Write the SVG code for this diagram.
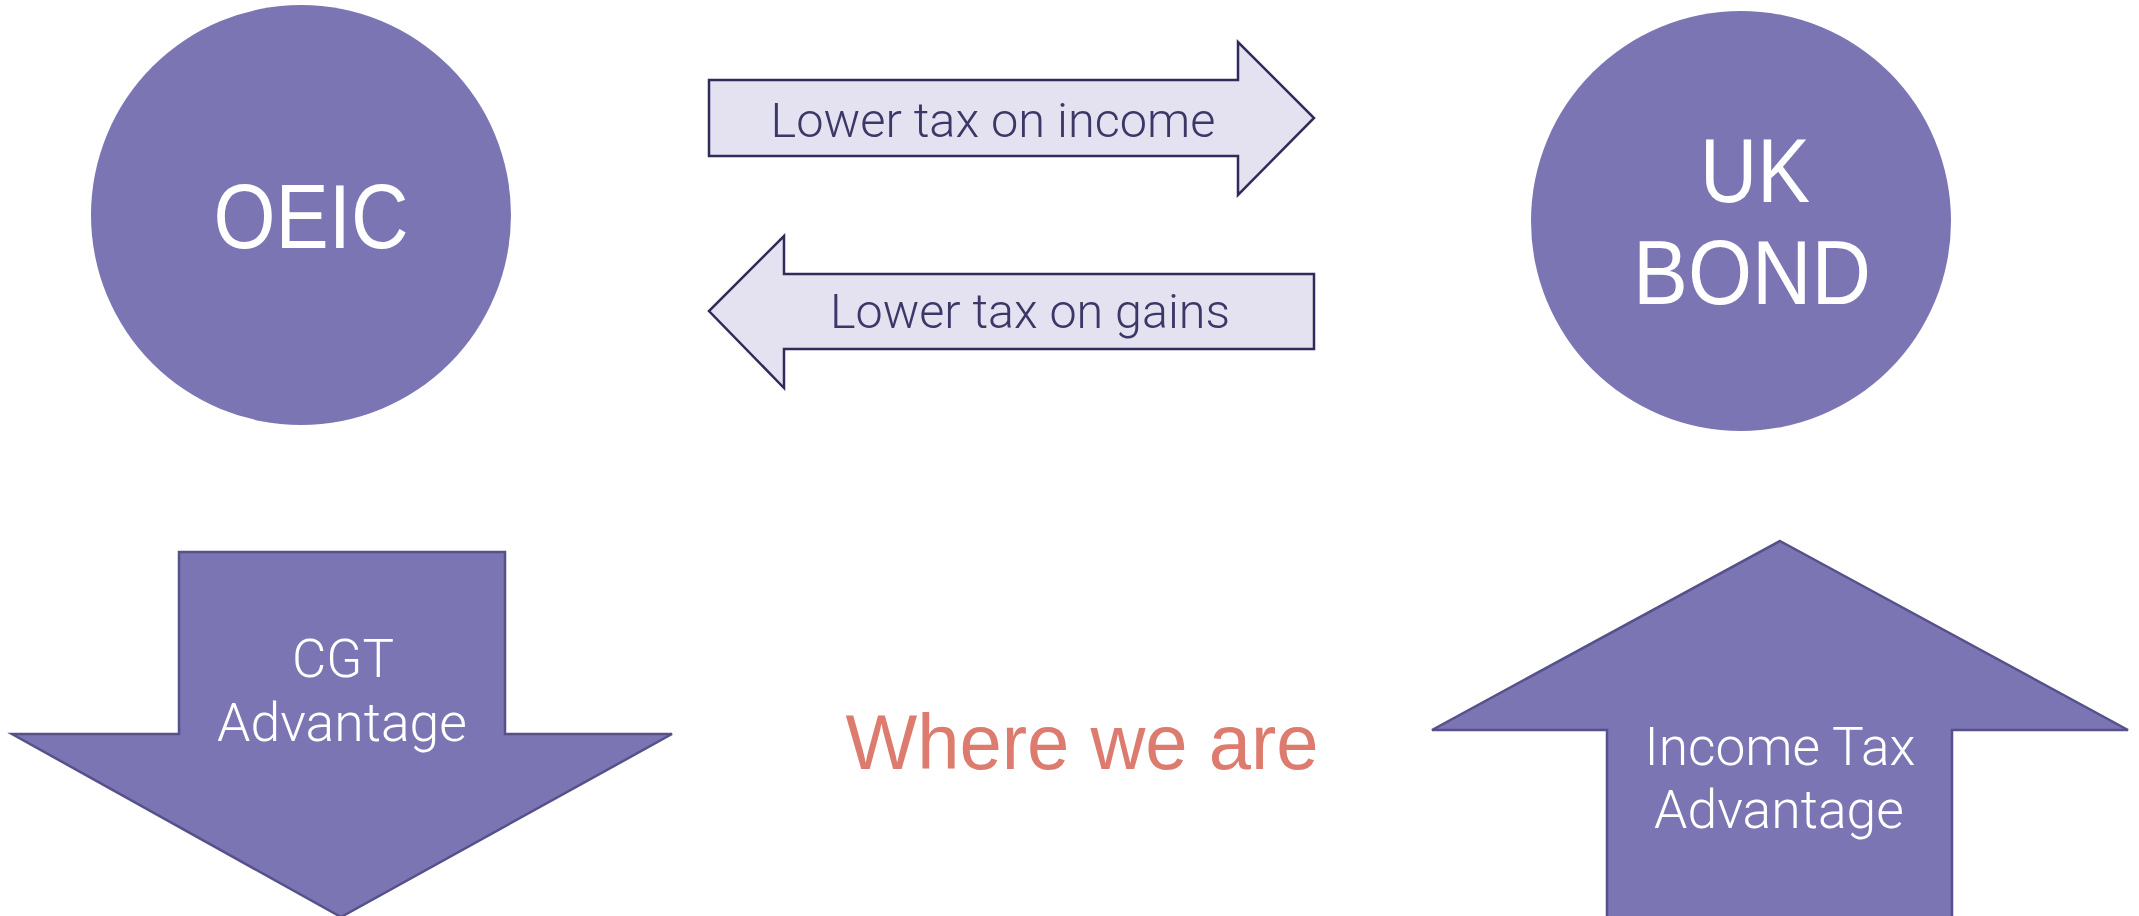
<svg xmlns="http://www.w3.org/2000/svg" width="2139" height="916" viewBox="0 0 2139 916">
  <style>
    .disc { fill: #7b75b4; }
    .big-arrow { fill: #7b75b4; stroke: #56518a; stroke-width: 2.5; stroke-linejoin: miter; }
    .flow-arrow { fill: #e4e2f0; stroke: #2f2c5c; stroke-width: 2.5; stroke-linejoin: miter; }
    .disc-label { font-family: "Liberation Sans", Arial, sans-serif; font-size: 90px; fill: #ffffff; text-anchor: middle; }
    .arrow-label { font-family: Roboto, "Liberation Sans", Arial, sans-serif; font-weight: 300; font-size: 53px; fill: #ffffff; text-anchor: middle; }
    .flow-label { font-family: Roboto, "Liberation Sans", Arial, sans-serif; font-weight: 300; font-size: 49px; fill: #3b3868; text-anchor: middle; }
    .caption { font-family: "Liberation Sans", Arial, sans-serif; font-size: 78px; fill: #dc7b6e; text-anchor: middle; }
  </style>

  <rect width="2139" height="916" fill="#ffffff"/>

  <!-- OEIC disc -->
  <g id="oeic">
    <circle class="disc" cx="301" cy="215" r="210"/>
    <text class="disc-label" x="311" y="248" textLength="195" lengthAdjust="spacingAndGlyphs">OEIC</text>
  </g>

  <!-- UK bond disc -->
  <g id="uk-bond">
    <circle class="disc" cx="1741" cy="221" r="210"/>
    <text class="disc-label" x="1755" y="202" textLength="110" lengthAdjust="spacingAndGlyphs">UK</text>
    <text class="disc-label" x="1752" y="304" textLength="238" lengthAdjust="spacingAndGlyphs">BOND</text>
  </g>

  <!-- Flows between the two wrappers -->
  <g id="connectors">
    <g id="flow-income">
      <path class="flow-arrow" d="M709,80 H1238 V42 L1314,118 L1238,195 V156 H709 Z"/>
      <text class="flow-label" x="993" y="137" textLength="445" lengthAdjust="spacingAndGlyphs">Lower tax on income</text>
    </g>
    <g id="flow-gains">
      <path class="flow-arrow" d="M1314,274 H784 V236 L709,311 L784,388 V349 H1314 Z"/>
      <text class="flow-label" x="1030" y="328" textLength="400" lengthAdjust="spacingAndGlyphs">Lower tax on gains</text>
    </g>
  </g>

  <!-- CGT advantage (down arrow) -->
  <g id="cgt-advantage">
    <path class="big-arrow" d="M179,552 H505 V734 H672 L341,917 L12,734 H179 Z"/>
    <text class="arrow-label" x="343" y="677" textLength="102" lengthAdjust="spacingAndGlyphs">CGT</text>
    <text class="arrow-label" x="342" y="741" textLength="250" lengthAdjust="spacingAndGlyphs">Advantage</text>
  </g>

  <!-- Income tax advantage (up arrow) -->
  <g id="income-tax-advantage">
    <path class="big-arrow" d="M1780,541 L2128,730 H1952 V920 H1607 V730 H1432 Z"/>
    <text class="arrow-label" x="1780" y="765" textLength="271" lengthAdjust="spacingAndGlyphs">Income Tax</text>
    <text class="arrow-label" x="1779" y="828" textLength="250" lengthAdjust="spacingAndGlyphs">Advantage</text>
  </g>

  <!-- Caption -->
  <g id="where-we-are">
    <text class="caption" x="1082" y="769" textLength="473" lengthAdjust="spacingAndGlyphs">Where we are</text>
  </g>
</svg>
